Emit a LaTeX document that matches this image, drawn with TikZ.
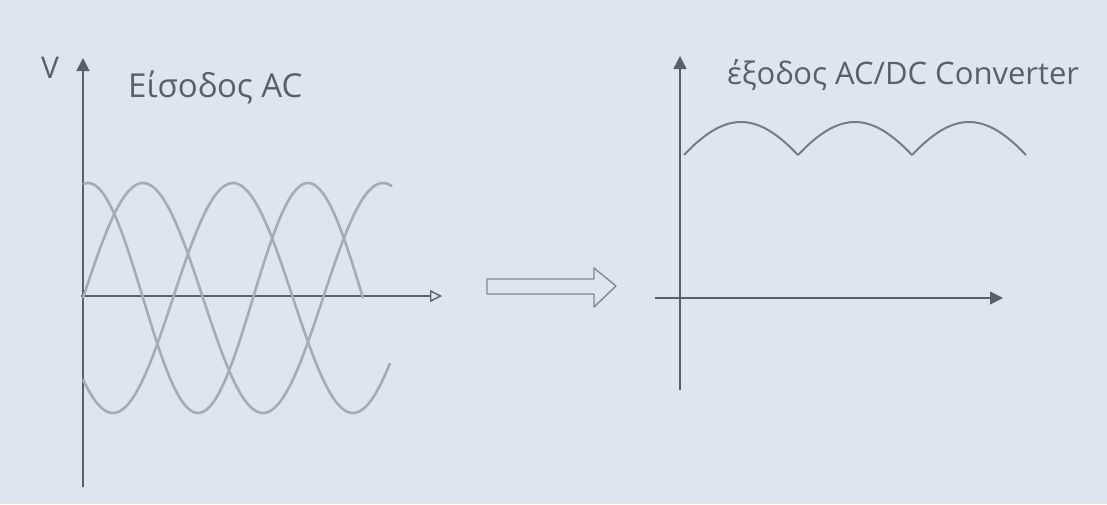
\documentclass[tikz,border=0pt]{standalone}
\usepackage{fontspec}
\setmainfont{Open Sans}
\usetikzlibrary{arrows.meta}
\definecolor{paper}{HTML}{DDE6F0}
\definecolor{pencil}{HTML}{5A606A}
\definecolor{softpencil}{HTML}{A4ACB6}
\definecolor{midpencil}{HTML}{767C86}
\tikzstyle{axis} = [pencil, line width=1.4pt, -{Triangle[length=13pt,width=13pt]}]
\tikzstyle{openaxis} = [pencil, line width=1.4pt, -{Triangle[open,length=12pt,width=12pt,fill=paper]}]
\tikzstyle{phase} = [softpencil, line width=2.6pt]
\tikzstyle{hump} = [midpencil, line width=2pt]
\tikzstyle{hand} = [pencil, inner sep=0pt, font=\fontsize{30}{36}\selectfont]

\begin{document}
\begin{tikzpicture}[x=1pt, y=-1pt]
\fill[paper] (0,0) rectangle (1107,504);
\useasboundingbox (0,0) rectangle (1107,504);
%begin input
\coordinate (inBottom) at (83,487);
\coordinate (inTop) at (83,58);
\coordinate (inOrigin) at (81,296);
\coordinate (inEnd) at (442,296);
\draw[axis] (inBottom) -- (inTop);
\draw[openaxis] (inOrigin) -- (inEnd);
\node[hand] (vLabel) at (50,68) {V};
\node[hand, anchor=base west, font=\fontsize{33}{38}\selectfont] (inTitle) at (128,97) {Είσοδος AC};
%phases
\draw[phase] plot[domain=83:363, samples=120, smooth] (\x, {298-115*cos((\x-88)/220*360)});
\draw[phase] plot[domain=83:392, samples=120, smooth] (\x, {298-115*sin((\x-83)/240*360)});
\draw[phase] plot[domain=83:390, samples=120, smooth] (\x, {298-115*cos((\x-233)/240*360)});
%end input
%begin arrow
\draw[pencil!75, line width=1.4pt, fill=paper, line join=round]
    (487,279) -- (594,279) -- (594,268) -- (616,286) -- (594,307) -- (594,294) -- (487,294) -- cycle;
%end arrow
%begin output
\coordinate (outBottom) at (680,390);
\coordinate (outTop) at (680,56);
\coordinate (outOrigin) at (655,298);
\coordinate (outEnd) at (1003,298);
\draw[axis] (outBottom) -- (outTop);
\draw[axis] (outOrigin) -- (outEnd);
\node[hand, anchor=base west, font=\fontsize{31}{36}\selectfont] (outTitle) at (727,84) {έξοδος AC/DC Converter};
%humps
\foreach \k in {0,1,2}
    \draw[hump] plot[domain=-60:60, samples=40, smooth] ({741+114*\k+\x*57/60}, {155-66*(cos(\x)-0.5)});
%end output
\end{tikzpicture}
\end{document}
